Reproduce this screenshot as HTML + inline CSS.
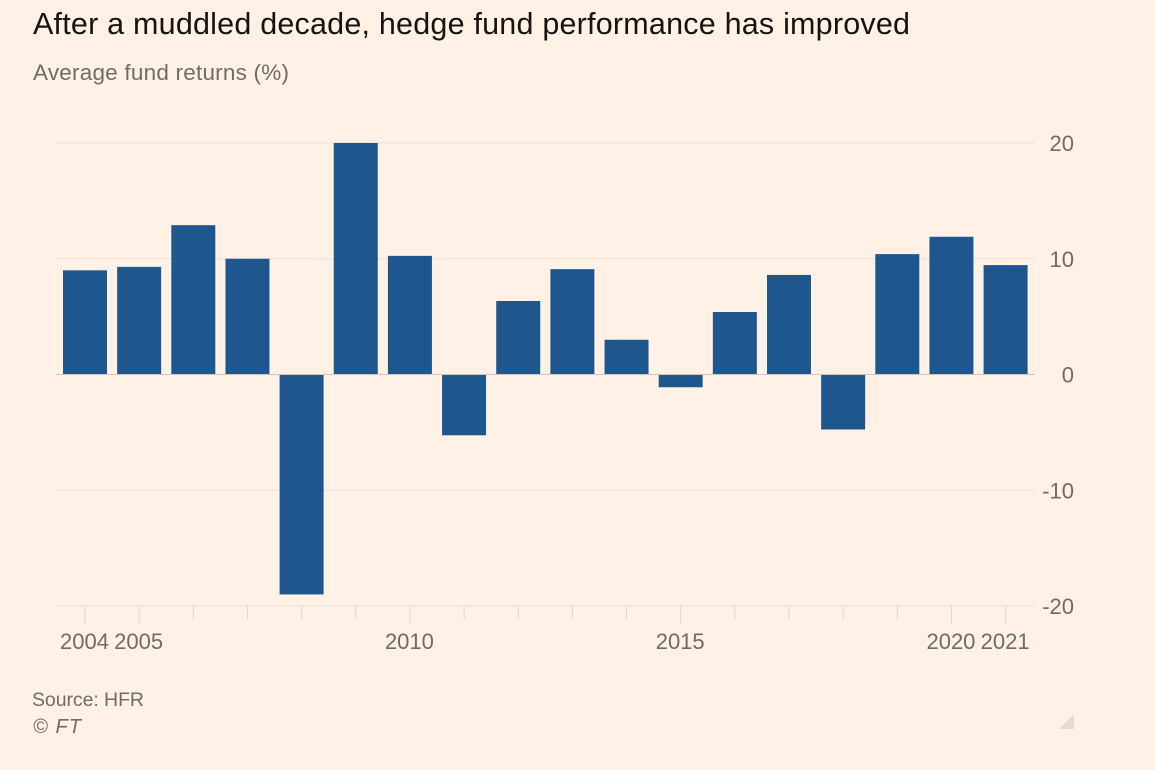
<!DOCTYPE html>
<html lang="en">
<head>
<meta charset="utf-8">
<title>Hedge fund performance</title>
<style>
html,body{margin:0;padding:0;background:#fff1e6;}
body{width:1155px;height:770px;overflow:hidden;font-family:"Liberation Sans",sans-serif;}
svg{display:block;}
</style>
</head>
<body>
<svg id="chart" xmlns="http://www.w3.org/2000/svg" width="1155" height="770" viewBox="0 0 1155 770" font-family="'Liberation Sans',sans-serif">
  <rect x="0" y="0" width="1155" height="770" fill="#fff1e6"/>
  <text x="33" y="34" font-size="30.5" fill="#171310" textLength="877" lengthAdjust="spacing">After a muddled decade, hedge fund performance has improved</text>
  <text x="33" y="80" font-size="22.5" fill="#716b66" textLength="256" lengthAdjust="spacing">Average fund returns (%)</text>
  <g id="grid"></g>
  <g id="bars"></g>
  <g id="axes"></g>
  <text x="32" y="706" font-size="19.5" fill="#716b66" textLength="112" lengthAdjust="spacing">Source: HFR</text>
  <text x="33" y="733" font-size="20" font-style="italic" fill="#716b66" textLength="48" lengthAdjust="spacing">© FT</text>
  <polygon points="1074,714 1074,729 1059,729" fill="#e3dcd6"/>
</svg>
<script>
const years = [2004,2005,2006,2007,2008,2009,2010,2011,2012,2013,2014,2015,2016,2017,2018,2019,2020,2021];
const returnsPct = [9.0,9.3,12.9,10.0,-19.0,20.0,10.25,-5.25,6.35,9.1,3.0,-1.1,5.4,8.6,-4.75,10.4,11.9,9.45];
const yTicks = [20,10,0,-10,-20];
const xLabelYears = [2004,2005,2010,2015,2020,2021];

const NS = 'http://www.w3.org/2000/svg';
const plot = {left:56, right:1035, firstX:85, lastX:1005.6, barW:44};
function xScale(year){
  return plot.firstX + (year - years[0]) * (plot.lastX - plot.firstX) / (years[years.length-1] - years[0]);
}
function yScale(v){
  return 374.5 - v * 11.575;
}
function make(tag, attrs, parent){
  const el = document.createElementNS(NS, tag);
  for (const k in attrs) el.setAttribute(k, attrs[k]);
  parent.appendChild(el);
  return el;
}
const grid = document.getElementById('grid');
const barsG = document.getElementById('bars');
const axes = document.getElementById('axes');

yTicks.forEach(function(t){
  const line = make('line', {x1:plot.left, x2:plot.right, y1:yScale(t), y2:yScale(t), stroke:'#e9e0d9', 'stroke-width':1}, grid);
  
  
  const label = make('text', {x:1074, y:yScale(t)+8, 'text-anchor':'end', 'font-size':22, fill:'#716b66'}, axes);
  
  
  label.textContent = String(t);
});

years.forEach(function(year, i){
  const v = returnsPct[i];
  const y0 = yScale(0), y1 = yScale(v);
  const bar = make('rect', {x:xScale(year)-plot.barW/2, y:Math.min(y0,y1), width:plot.barW, height:Math.abs(y1-y0), fill:'#1e568e'}, barsG);
  
  
  const major = xLabelYears.indexOf(year) >= 0;
  const tick = make('line', {x1:xScale(year), x2:xScale(year), y1:606, y2:major ? 624 : 619, stroke:'#dcd5cf', 'stroke-width':1}, axes);
  
  
});

const zeroLine = make('line', {x1:plot.left, x2:plot.right, y1:yScale(0), y2:yScale(0), stroke:'#cfc6bf', 'stroke-width':1}, axes);



xLabelYears.forEach(function(year){
  const label = make('text', {x:xScale(year)-0.5, y:649, 'text-anchor':'middle', 'font-size':22, fill:'#716b66'}, axes);
  
  
  label.textContent = String(year);
});
</script>
</body>
</html>
